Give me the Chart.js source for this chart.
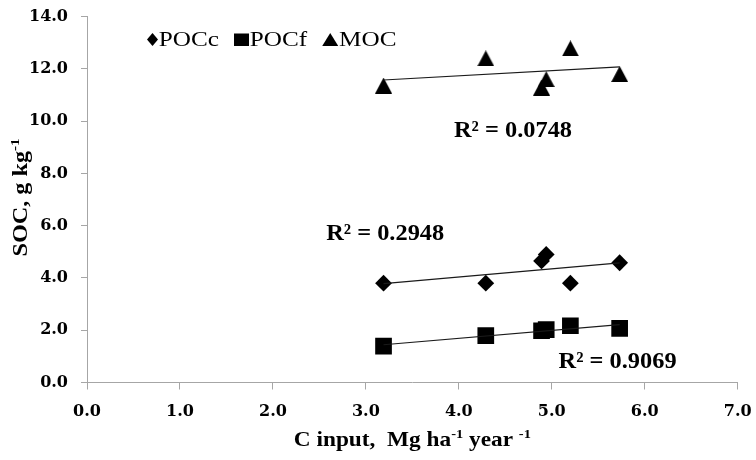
<!DOCTYPE html>
<html>
<head>
<meta charset="utf-8">
<script src="https://cdn.jsdelivr.net/npm/chart.js@4/dist/chart.umd.min.js"></script>
<style>
  html, body { margin: 0; padding: 0; background: #fff; }
  #wrap { width: 756px; height: 460px; }
</style>
</head>
<body>
<div id="wrap"><canvas id="c" width="756" height="460"></canvas></div>
<script>
// C input for each treatment (Mg ha-1 year-1)
const cInput = [3.19, 4.29, 4.89, 4.94, 5.20, 5.73];
// Soil organic carbon fractions (g kg-1)
const pocC = [3.80, 3.80, 4.65, 4.90, 3.80, 4.58];
const pocF = [1.39, 1.79, 1.98, 2.02, 2.17, 2.07];
const moc  = [11.36, 12.40, 11.28, 11.60, 12.78, 11.80];
const seriesNames = ['POCc', 'POCf', 'MOC'];
// coefficient of determination shown for each trend line
const rSquared = ['0.2948', '0.9069', '0.0748'];
const xTicks = [0, 1, 2, 3, 4, 5, 6, 7];
const yTicks = [0, 2, 4, 6, 8, 10, 12, 14];

const SERIF = '"Liberation Serif", "Times New Roman", serif';
const AXIS_GREY = '#a6a6a6';

// least-squares line spanning the x range of the series
function linearFit(xs, ys) {
  const n = xs.length;
  const mx = xs.reduce((a, b) => a + b, 0) / n;
  const my = ys.reduce((a, b) => a + b, 0) / n;
  let sxy = 0, sxx = 0;
  for (let i = 0; i < n; i++) {
    sxy += (xs[i] - mx) * (ys[i] - my);
    sxx += (xs[i] - mx) * (xs[i] - mx);
  }
  const slope = sxy / sxx, icpt = my - slope * mx;
  const x0 = Math.min(...xs), x1 = Math.max(...xs);
  return [{ x: x0, y: icpt + slope * x0 }, { x: x1, y: icpt + slope * x1 }];
}

const points = ys => cInput.map((x, i) => ({ x, y: ys[i] }));

// filled triangle marker, centred on its bounding box
function triangleMarker(w, h) {
  const c = document.createElement('canvas');
  c.width = w; c.height = h;
  const g = c.getContext('2d');
  g.fillStyle = '#000';
  g.beginPath();
  g.moveTo(0, h); g.lineTo(w / 2, 0); g.lineTo(w, h);
  g.closePath(); g.fill();
  return c;
}

function trendSet(ys) {
  return {
    data: linearFit(cInput, ys), showLine: true, pointRadius: 0,
    borderColor: '#1a1a1a', borderWidth: 1.2, order: 0
  };
}

// text made of normal and superscript runs, optionally stretched along its length
function runWidth(ctx, parts, size, weight) {
  let w = 0;
  for (const p of parts) {
    ctx.font = `${weight} ${p.sup ? size * 0.62 : size}px ${SERIF}`;
    w += ctx.measureText(p.t).width;
  }
  return w;
}
function drawRun(ctx, parts, x, y, size, weight, sx, align) {
  const w = runWidth(ctx, parts, size, weight);
  ctx.save();
  ctx.translate(x, y);
  ctx.scale(sx, 1);
  let cx = align === 'center' ? -w / 2 : 0;
  ctx.textBaseline = 'alphabetic';
  ctx.textAlign = 'left';
  ctx.fillStyle = '#000';
  for (const p of parts) {
    ctx.font = `${weight} ${p.sup ? size * 0.62 : size}px ${SERIF}`;
    ctx.fillText(p.t, cx, p.sup ? -size * 0.38 : 0);
    cx += ctx.measureText(p.t).width;
  }
  ctx.restore();
  return w * sx;
}

const annotations = {
  id: 'annotations',
  afterDraw(chart) {
    const ctx = chart.ctx;
    const xs = chart.scales.x, ys = chart.scales.y;
    const area = chart.chartArea;

    // axis titles
    drawRun(ctx, [{ t: 'C input,  Mg ha' }, { t: '-1', sup: true }, { t: ' year ' }, { t: '-1', sup: true }],
      (area.left + area.right) / 2, 446, 21, 'bold', 1.11, 'center');
    ctx.save();
    ctx.translate(27, (area.top + area.bottom) / 2 - 2);
    ctx.rotate(-Math.PI / 2);
    drawRun(ctx, [{ t: 'SOC, g kg' }, { t: '-1', sup: true }], 0, 0, 20, 'bold', 1.21, 'center');
    ctx.restore();

    // R² labels placed in data space next to their trend lines
    const r2Pos = [[2.573, 5.45], [5.073, 0.555], [3.948, 9.40]];
    rSquared.forEach((r, i) => {
      drawRun(ctx, [{ t: 'R² = ' + r }], xs.getPixelForValue(r2Pos[i][0]),
        ys.getPixelForValue(r2Pos[i][1]), 23, 'bold', 1.06, 'left');
    });

    // legend inside the plot area
    let lx = area.left + 60;
    const mid = area.top + 23, base = area.top + 29.5;
    const markers = [
      (x) => { ctx.beginPath(); ctx.moveTo(x, mid); ctx.lineTo(x + 5.5, mid - 6.5); ctx.lineTo(x + 11, mid); ctx.lineTo(x + 5.5, mid + 6.5); ctx.closePath(); ctx.fill(); return 11; },
      (x) => { ctx.fillRect(x, mid - 6, 15, 12.5); return 15; },
      (x) => { ctx.beginPath(); ctx.moveTo(x, mid + 6.5); ctx.lineTo(x + 8, mid - 6.5); ctx.lineTo(x + 16, mid + 6.5); ctx.closePath(); ctx.fill(); return 16; }
    ];
    ctx.save();
    ctx.fillStyle = '#000';
    seriesNames.forEach((name, i) => {
      lx += markers[i](lx) + 0.8;
      lx += drawRun(ctx, [{ t: name }], lx, base, 21, 'normal', 1.2, 'left') + 15;
    });
    ctx.restore();
  }
};

new Chart(document.getElementById('c'), {
  type: 'scatter',
  data: {
    datasets: [
      { label: seriesNames[0], data: points(pocC), pointStyle: 'rectRot', pointRadius: 8.4,
        backgroundColor: '#000', borderColor: '#000', pointBorderWidth: 0, order: 1 },
      { label: seriesNames[1], data: points(pocF), pointStyle: 'rect', pointRadius: 11.8,
        backgroundColor: '#000', borderColor: '#000', pointBorderWidth: 0, order: 1 },
      { label: seriesNames[2], data: points(moc), pointStyle: triangleMarker(17, 16), pointRadius: 9,
        backgroundColor: '#000', borderColor: '#000', pointBorderWidth: 0, order: 1 },
      trendSet(pocC), trendSet(pocF), trendSet(moc)
    ]
  },
  options: {
    responsive: false,
    animation: false,
    devicePixelRatio: 1,
    layout: { padding: { top: 16.5, right: 18.3, bottom: 0, left: 0 } },
    plugins: { legend: { display: false }, tooltip: { enabled: false } },
    events: [],
    scales: {
      x: {
        type: 'linear', min: 0, max: 7,
        afterBuildTicks: s => { s.ticks = xTicks.map(v => ({ value: v })); },
        afterFit: s => { s.height = 77.5; s.paddingLeft = 0; s.paddingRight = 0; },
        border: { display: true, color: AXIS_GREY, width: 1 },
        grid: { drawOnChartArea: false, drawTicks: true, tickLength: 7, color: AXIS_GREY },
        ticks: {
          callback: v => Number(v).toFixed(1), padding: 13, color: '#000',
          maxRotation: 0,
          font: { family: '"DejaVu Serif", serif', weight: 'bold', size: 16 }
        }
      },
      y: {
        type: 'linear', min: 0, max: 14,
        afterBuildTicks: s => { s.ticks = yTicks.map(v => ({ value: v })); },
        afterFit: s => { s.width = 87; s.paddingTop = 0; s.paddingBottom = 0; },
        border: { display: true, color: AXIS_GREY, width: 1 },
        grid: { drawOnChartArea: false, drawTicks: true, tickLength: 6, color: AXIS_GREY },
        ticks: {
          callback: v => Number(v).toFixed(1), padding: 13, color: '#000',
          font: { family: '"DejaVu Serif", serif', weight: 'bold', size: 16 }
        }
      }
    }
  },
  plugins: [annotations]
});
</script>
</body>
</html>
